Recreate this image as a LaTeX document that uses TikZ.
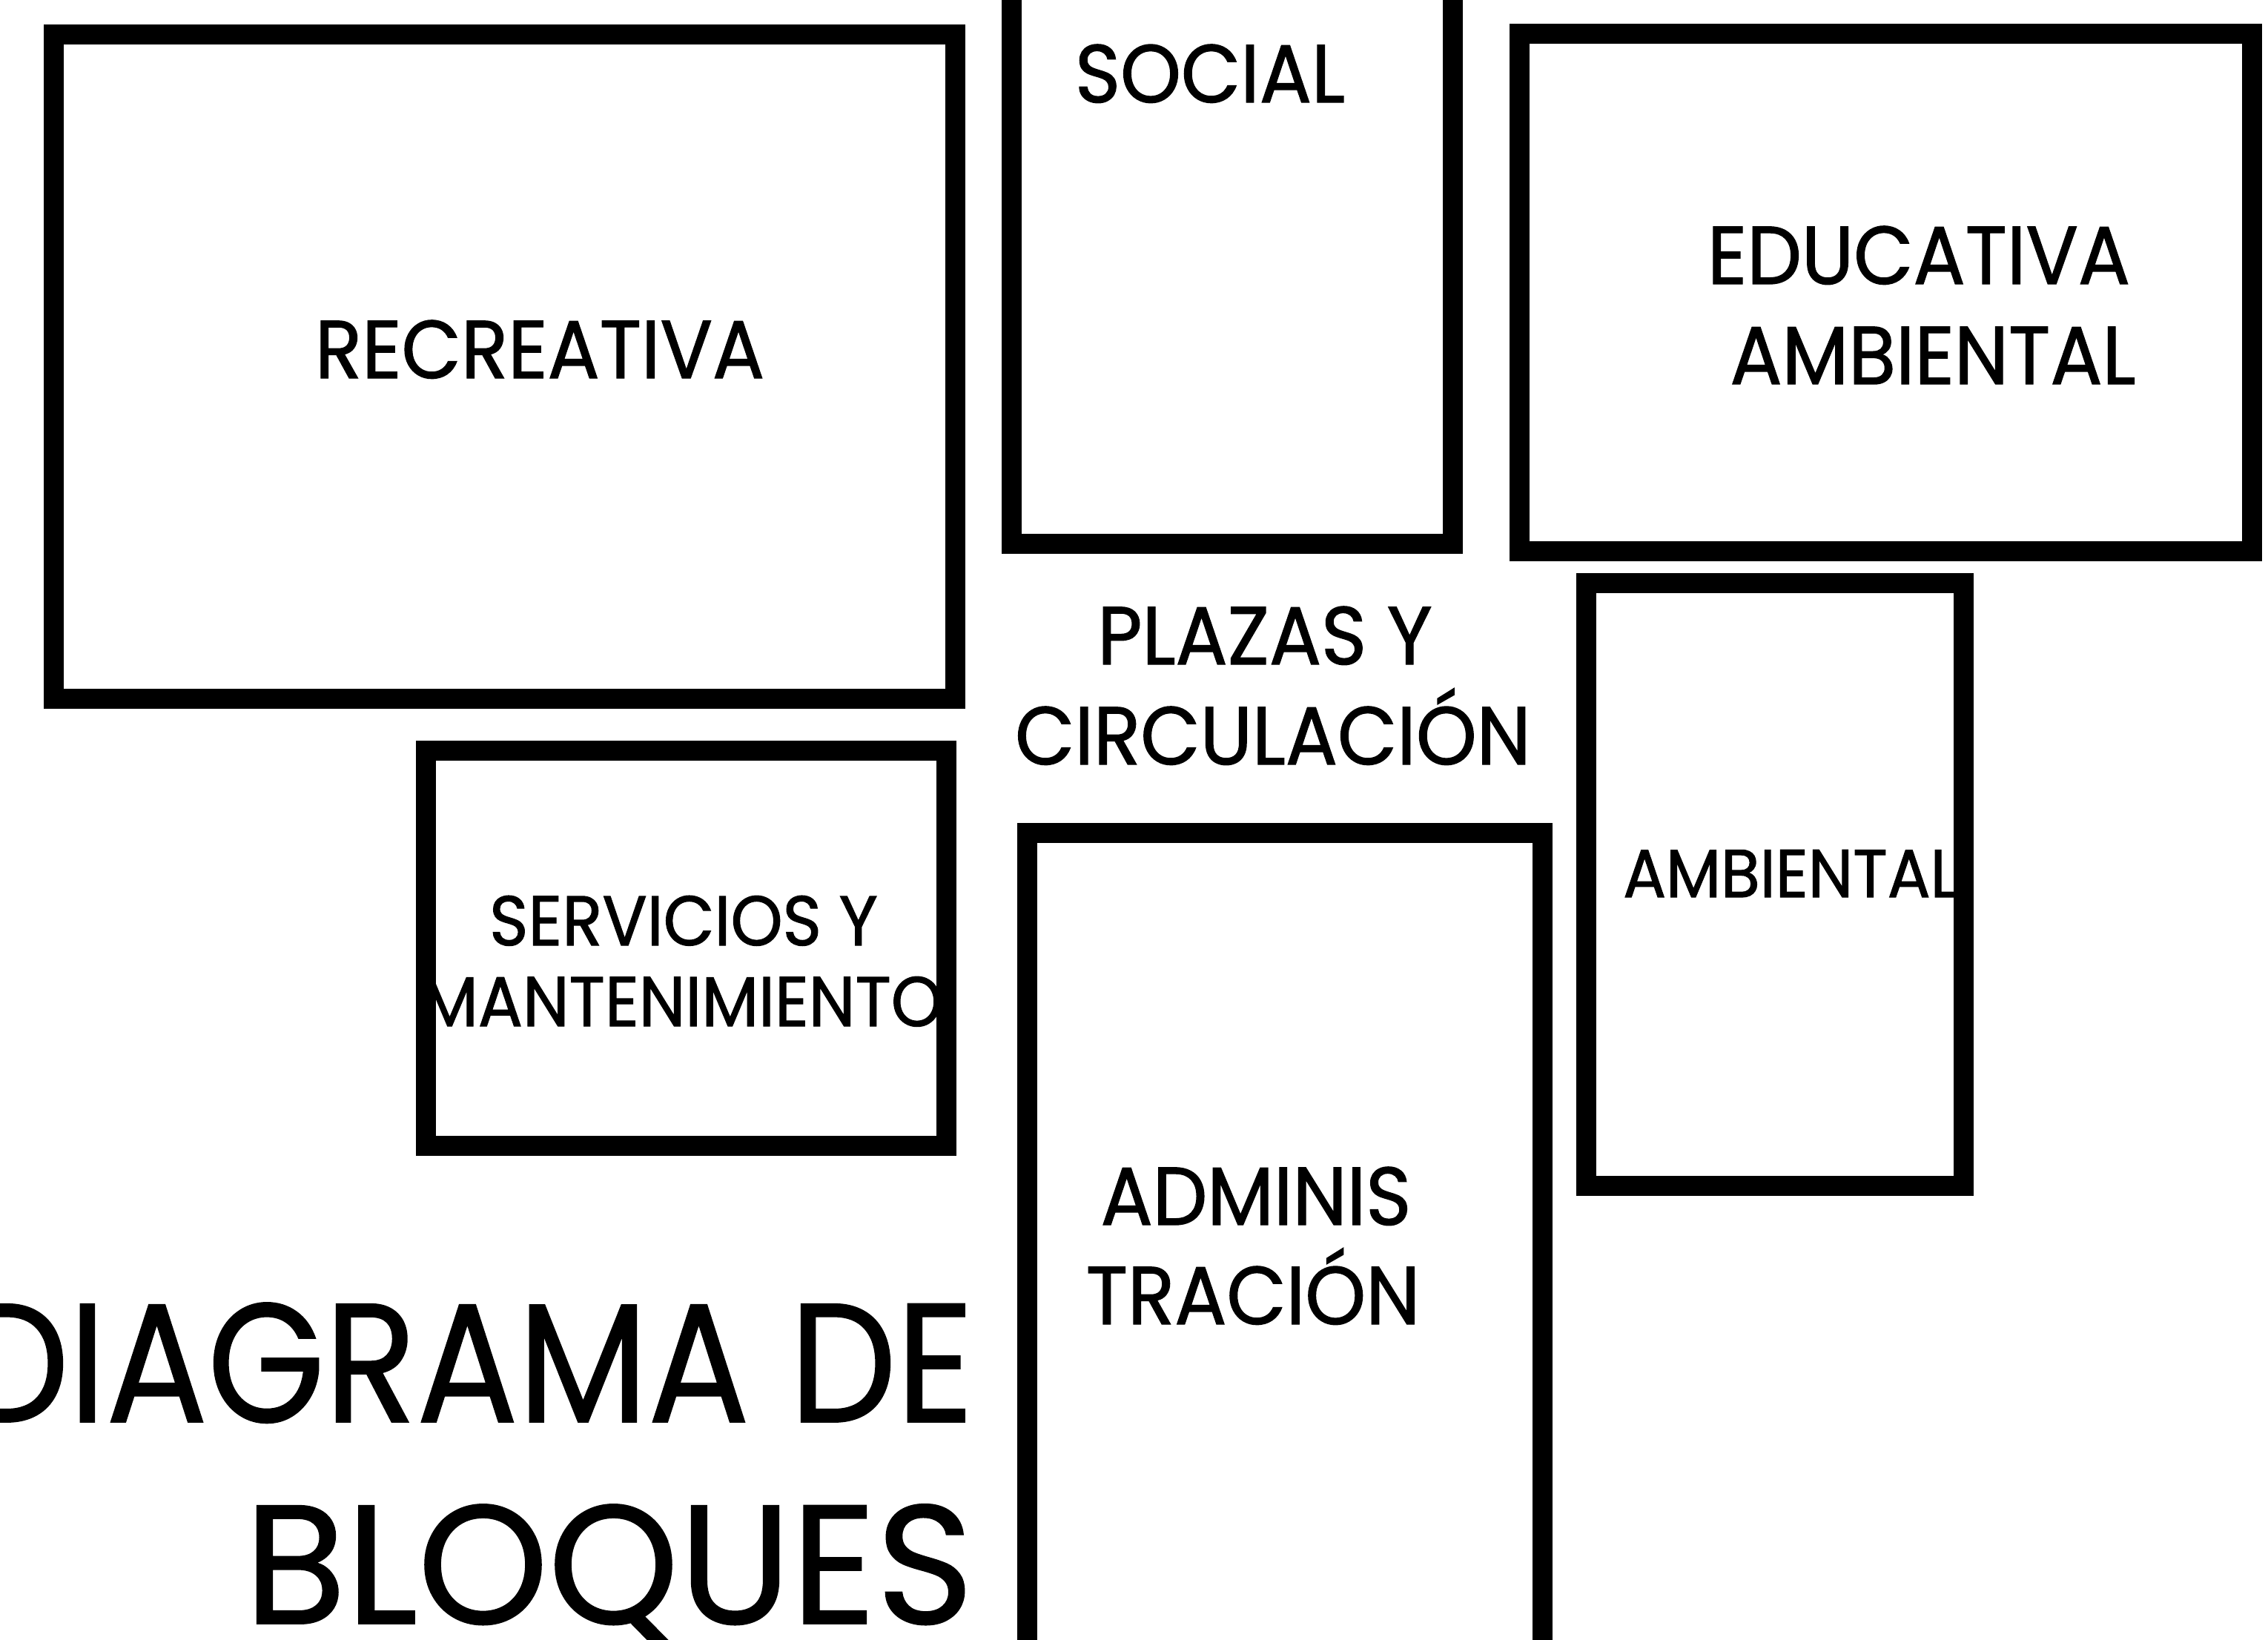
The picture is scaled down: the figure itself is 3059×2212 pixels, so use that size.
\documentclass[tikz,border=0pt]{standalone}
\usepackage{fontspec}
\setmainfont[FakeStretch=0.94, FakeBold=1.2]{Poppins}
\newfontfamily\angosta[FakeStretch=0.89, FakeBold=0.8]{Poppins}
\newfontfamily\titular[FakeStretch=0.98, FakeBold=0.8]{Poppins}

\tikzstyle{bloque} = [line width=2.7mm, line join=miter]
\tikzstyle{rotulo} = [anchor=base, inner sep=0pt, font=\fontsize{31.5}{36}\selectfont]
\tikzstyle{chico} = [anchor=base, inner sep=0pt, font=\fontsize{27}{32}\selectfont]
\tikzstyle{titulo} = [anchor=base east, inner sep=0pt]

\begin{document}
\begin{tikzpicture}[x=0.1mm, y=-0.1mm]
\useasboundingbox (0,0) rectangle (3059,2212);
\clip (0,0) rectangle (3059,2212);

% bloques
\draw[bloque] (72,46) rectangle (1288,942);
\draw[bloque] (1364,-100) rectangle (1959,733);
\draw[bloque] (2049,45) rectangle (3037,743);
\draw[bloque] (2139,786) rectangle (2648,1599);
\draw[bloque] (574,1012) rectangle (1276,1545);
\draw[bloque] (1385,1123) rectangle (2080,2300);

% rotulos
\node[rotulo] (recreativa) at (728,510) {RECREATIVA};
\node[rotulo] (social) at (1632,138) {SOCIAL};
\node[rotulo] (educativa) at (2588,383) {EDUCATIVA};
\node[rotulo] (edu ambiental) at (2607,518) {AMBIENTAL};
\node[rotulo] (plazas) at (1706,896) {PLAZAS Y};
\node[rotulo] (circulacion) at (1717,1031) {CIRCULACIÓN};
\node[chico] (servicios) at (922,1275) {SERVICIOS Y};
\node[chico] (mantenimiento) at (920,1384) {MANTENIMIENTO};
\node[rotulo] (adminis) at (1694,1652) {ADMINIS};
\node[rotulo] (tracion) at (1690,1786) {TRACIÓN};
\node[chico, font=\fontsize{26}{30}\selectfont] (ambiental) at (2415,1210) {AMBIENTAL};

% titulo
\node[titulo, font=\angosta\fontsize{65}{74}\selectfont] (diagrama) at (1314,1918) {DIAGRAMA DE};
\node[titulo, font=\titular\fontsize{65}{74}\selectfont] (bloques) at (1314,2190) {BLOQUES};
\end{tikzpicture}
\end{document}
